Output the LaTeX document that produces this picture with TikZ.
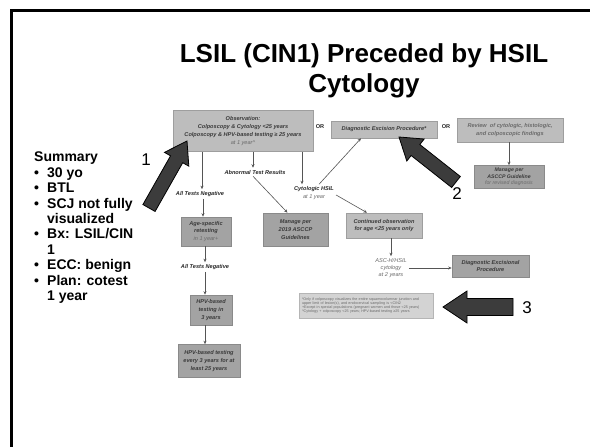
\documentclass[tikz,border=0pt]{standalone}
\usepackage{fontspec}
\setmainfont{Liberation Sans}
\usetikzlibrary{arrows.meta,calc}
\definecolor{boxlt}{HTML}{BDBDBD}
\definecolor{boxltln}{HTML}{9E9E9E}
\definecolor{boxdk}{HTML}{A3A3A3}
\definecolor{boxdkln}{HTML}{8A8A8A}
\definecolor{boxfn}{HTML}{D3D3D3}
\definecolor{boxfnln}{HTML}{B5B5B5}
\definecolor{txt}{HTML}{3A3A3A}
\definecolor{txtlt}{HTML}{6A6A6A}
\definecolor{lbl}{HTML}{262626}
\definecolor{ln}{HTML}{555555}
\definecolor{bigf}{HTML}{3C3C3C}
\newcommand\boxfont{\fontsize{5.6}{7.8}\selectfont\bfseries\itshape}
\newcommand\lite[1]{{\color{txtlt}\mdseries #1}}
\newcommand\bigarr[5]{%
  \coordinate (hb) at ($(#2)!#5!(#1)$);
  \filldraw[big] ($(#1)!#3!90:(#2)$) -- ($(hb)!#3!90:(#2)$) -- ($(hb)!#4!90:(#2)$) -- (#2) -- ($(hb)!#4!-90:(#2)$) -- ($(hb)!#3!-90:(#2)$) -- ($(#1)!#3!-90:(#2)$) -- cycle;}
\begin{document}
\begin{tikzpicture}[x=1pt,y=-1pt,
  lbox/.style={draw=boxltln, fill=boxlt, line width=0.6pt, inner sep=0pt, align=center, font=\boxfont, text=txt},
  dbox/.style={lbox, fill=boxdk, draw=boxdkln},
  lab/.style={align=center, font=\boxfont, text=lbl, inner sep=2pt},
  conn/.style={draw=ln, line width=0.6pt, -{Stealth[length=3.5pt,width=3pt]}},
  big/.style={fill=bigf, draw=black, line width=0.8pt, line join=miter},
  num/.style={font=\fontsize{17}{17}\selectfont, inner sep=0pt}]
\useasboundingbox (0,0) rectangle (590,447);
\fill[white] (0,0) rectangle (590,447);
% slide frame
\draw[line width=3pt] (11.5,447) -- (11.5,10.5) -- (590,10.5);
% title
\node[anchor=base, font=\fontsize{26}{30}\selectfont\bfseries, inner sep=0pt] (t1) at (364,63) {LSIL (CIN1) Preceded by HSIL};
\node[anchor=base, font=\fontsize{26}{30}\selectfont\bfseries, inner sep=0pt] (t2) at (364,92) {Cytology};
% summary
\node[anchor=north west, inner sep=0pt, font=\fontsize{14}{15.4}\selectfont\bfseries] (sum) at (34,151) {%
\begin{tabular}{@{}p{13pt}@{}l@{}}
\multicolumn{2}{@{}l@{}}{Summary}\\
• & 30 yo\\
• & BTL\\
• & SCJ not fully\\
  & visualized\\
• & Bx: LSIL/CIN\\
  & 1\\
• & ECC: benign\\
• & Plan: cotest\\
  & 1 year
\end{tabular}};
% top row boxes
\node[lbox, minimum width=140pt, minimum height=41pt] (obs) at (243,131)
  {Observation:\\Colposcopy \& Cytology <25 years\\Colposcopy \& HPV-based testing ≥ 25 years\\\lite{at 1 year\textasciicircum}};
\node[lab] (or1) at (320,127) {\upshape OR};
\node[lbox, minimum width=106pt, minimum height=17pt] (diag) at (384,129.5) {Diagnostic Excision Procedure*};
\node[lab] (or2) at (446,127) {\upshape OR};
\node[lbox, minimum width=106pt, minimum height=24pt, text=txtlt] (rev) at (510,130) {Review\ \ of cytologic, histologic,\\and colposcopic findings};
\node[dbox, minimum width=70pt, minimum height=23pt, font=\fontsize{5.2}{6.6}\selectfont\bfseries\itshape] (mg) at (509,177) {Manage per\\ASCCP Guideline\\\lite{for revised diagnosis}};
% labels under observation
\node[lab] (neg1) at (200,194) {All Tests Negative};
\node[lab] (abn) at (255,172) {Abnormal Test Results};
\node[lab] (hsil) at (314,193) {Cytologic HSIL\\\lite{at 1 year}};
% middle boxes
\node[dbox, minimum width=65pt, minimum height=33pt] (m19) at (295.5,229.5) {Manage per\\2019 ASCCP\\Guidelines};
\node[lbox, minimum width=76pt, minimum height=25pt] (cont) at (384,225.5) {Continued observation\\for age <25 years only};
\node[lab, text=txtlt, font=\fontsize{5.6}{7}\selectfont\itshape] (asc) at (391,268) {ASC-H/HSIL\\cytology\\at 2 years};
\node[dbox, minimum width=77pt, minimum height=22pt] (dep) at (490.5,266) {Diagnostic Excisional\\Procedure};
\node[lbox, fill=boxfn, draw=boxfnln, text=txtlt, minimum height=25pt, text width=128pt, inner sep=3pt, align=left, font=\fontsize{3.7}{4.2}\selectfont] (fn) at (366,305.5)
  {*Only if colposcopy visualizes the entire squamocolumnar junction and\\upper limit of lesion(s), and endocervical sampling is <CIN2\\+Except in special populations (pregnant women and those <25 years)\\\textasciicircum Cytology + colposcopy <25 years; HPV-based testing ≥25 years};
% left column
\node[dbox, minimum width=50pt, minimum height=29pt] (age) at (206,231.5) {Age-specific\\retesting\\\lite{in 1 year+}};
\node[lab] (neg2) at (205,267) {All Tests Negative};
\node[dbox, minimum width=42pt, minimum height=30pt] (hpv3) at (211,310) {HPV-based\\testing in\\3 years};
\node[dbox, minimum width=62pt, minimum height=33pt] (fin) at (209,361) {HPV-based testing\\every 3 years for at\\least 25 years};
% connectors
\draw[conn] (obs.south -| 202,0) -- (neg1.north -| 202,0);
\draw[conn] (obs.south -| 253,0) -- (abn.north -| 253,0);
\draw[conn] ([xshift=-12pt]obs.south -| hsil.north) -- ([xshift=-12pt]hsil.north);
\draw[conn] ([xshift=5pt]hsil.north) -- ([xshift=-23pt]diag.south);
\draw[conn] ([xshift=-2pt]abn.south) -- ([xshift=-8pt]m19.north);
\draw[conn] ([yshift=-2pt]hsil.east) -- ([xshift=-17pt]cont.north);
\draw[conn] (rev.south -| mg.north) -- (mg.north);
\draw[conn] (cont.south -| asc.north) -- (asc.north);
\draw[conn] (asc.east) -- (asc.east -| dep.west);
\draw[conn] (neg1.south -| 203,0) -- (age.north -| 203,0);
\draw[conn] (age.south -| neg2.north) -- (neg2.north);
\draw[conn] (neg2.south) -- (neg2.south |- hpv3.north);
\draw[conn] (hpv3.south -| neg2.south) -- (fin.north -| neg2.south);
% big callout arrows
\coordinate (ta) at (149,208); \coordinate (pa) at (187,141);
\bigarr{ta}{pa}{7pt}{14pt}{21pt}
\coordinate (tb) at (456,182); \coordinate (pb) at (399,137);
\bigarr{tb}{pb}{7pt}{14pt}{21pt}
\coordinate (tc) at (513,307); \coordinate (pc) at (443,307);
\bigarr{tc}{pc}{8.5pt}{16pt}{24pt}
\node[num] (n1) at (146,160) {1};
\node[num] (n2) at (457,194) {2};
\node[num] (n3) at (527,308) {3};
\end{tikzpicture}
\end{document}
